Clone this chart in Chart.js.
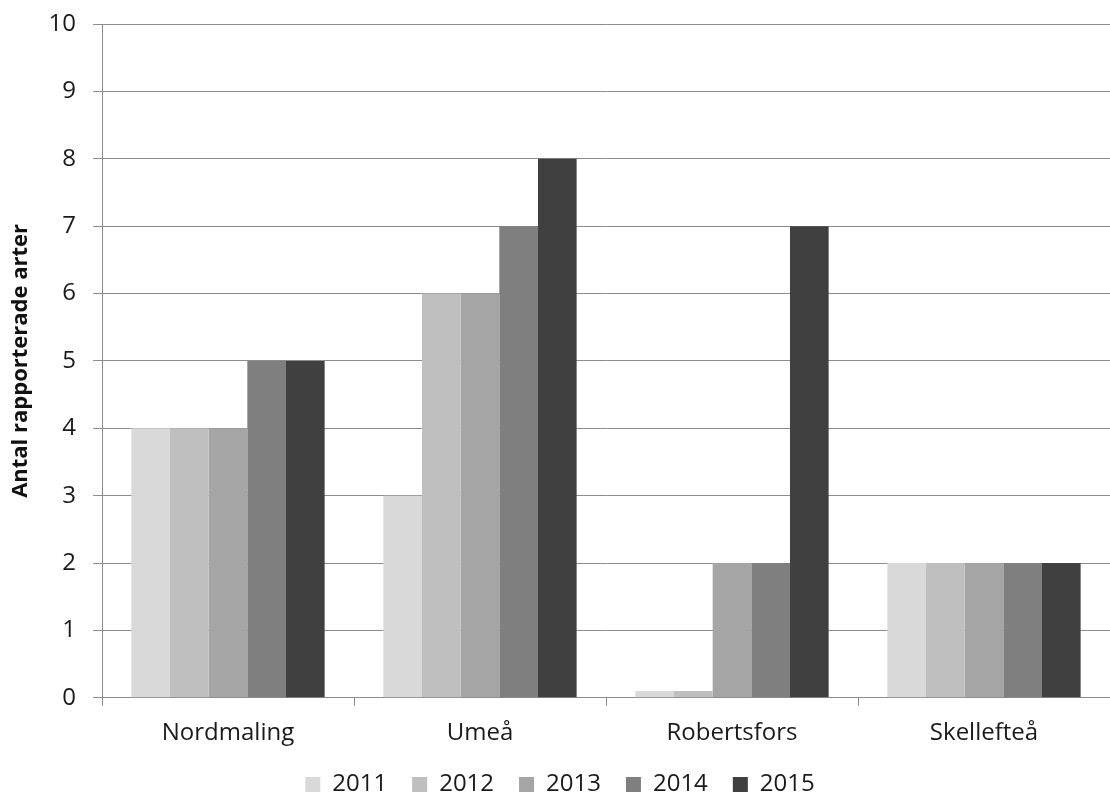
<!DOCTYPE html>
<html><head><meta charset="utf-8">
<script src="https://cdn.jsdelivr.net/npm/chart.js@4"></script>
<style>html,body{margin:0;padding:0;background:#fff}#wrap{width:1110px;height:792px}</style>
</head><body><div id="wrap"><canvas id="c" width="1110" height="792"></canvas></div>
<script>
const categories = ["Nordmaling", "Umeå", "Robertsfors", "Skellefteå"];
const years = ["2011", "2012", "2013", "2014", "2015"];
const v2011 = [4, 3, 0.1, 2];
const v2012 = [4, 6, 0.1, 2];
const v2013 = [4, 6, 2, 2];
const v2014 = [5, 7, 2, 2];
const v2015 = [5, 8, 7, 2];
const yTicks = [0,1,2,3,4,5,6,7,8,9,10];
const colors = ["#d9d9d9", "#bfbfbf", "#a5a5a5", "#7f7f7f", "#404040"];
const series = [v2011, v2012, v2013, v2014, v2015];
const FONT = "'Open Sans', 'DejaVu Sans', sans-serif";
new Chart(document.getElementById('c'), {
  type: 'bar',
  data: {
    labels: categories,
    datasets: years.map((y, i) => ({ label: y, data: series[i], backgroundColor: colors[i], borderWidth: 0 }))
  },
  options: {
    responsive: false, animation: false,
    layout: { autoPadding: false, padding: { top: 24, right: -6, left: 4, bottom: -14.4 } },
    datasets: { bar: { categoryPercentage: 0.767, barPercentage: 1.0 } },
    plugins: {
      legend: { position: 'bottom', labels: { boxWidth: 15, boxHeight: 15, padding: 25, color: '#1a1a1a', font: { family: FONT, size: 24 } } },
      tooltip: { enabled: false }
    },
    scales: {
      x: {
        afterFit: (ax) => { ax.height = 49.6; },
        grid: { offset: true, drawOnChartArea: false, drawTicks: true, tickLength: 8, color: '#8c8c8c' },
        border: { color: '#8c8c8c', width: 1 },
        ticks: { color: '#1a1a1a', font: { family: FONT, size: 24 }, padding: 13 }
      },
      y: {
        min: 0, max: 10,
        afterBuildTicks: (ax) => { ax.ticks = yTicks.map(v => ({ value: v })); },
        afterFit: (ax) => { ax.width = 98; ax.paddingTop = 0; ax.paddingBottom = 0; },
        grid: { color: '#8c8c8c', tickLength: 9 },
        border: { color: '#8c8c8c', width: 1 },
        ticks: { color: '#1a1a1a', font: { family: FONT, size: 24 }, padding: 17 },
        title: { display: true, text: 'Antal rapporterade arter', color: '#111', font: { family: FONT, size: 22, weight: 'bold' }, padding: { bottom: 0 } }
      }
    }
  }
});
</script></body></html>
